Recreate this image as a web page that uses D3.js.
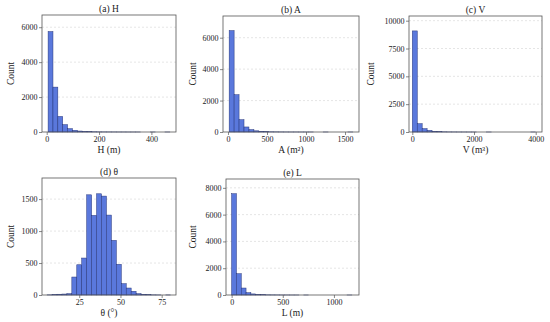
<!DOCTYPE html>
<html><head><meta charset="utf-8">
<script src="https://cdn.jsdelivr.net/npm/d3@7"></script>
<style>
body{margin:0;background:#fff;}
svg text{font-family:"Liberation Serif","Times New Roman",serif;fill:#222;}
</style></head>
<body><svg id="c" width="550" height="322"></svg>
<script>
// ---- data ----
const titles = ["(a) H", "(b) A", "(c) V", "(d) θ", "(e) L"];
const xLabels = ["H (m)", "A (m²)", "V (m³)", "θ (°)", "L (m)"];
const binStarts = [5.3, 15, 0, 5.5, 0];
const binWidths = [18.6, 63.4, 160, 3, 47];
const countsH = [5750, 2570, 890, 420, 190, 95, 55, 30, 20, 12, 8, 5, 4, 3, 2, 2, 1, 1, 1, 0, 0, 1, 0, 0, 1];
const countsA = [6450, 2370, 780, 320, 150, 75, 40, 20, 12, 8, 5, 3, 2, 2, 1, 1, 1, 0, 0, 1, 0, 0, 0, 0, 1];
const countsV = [9080, 745, 300, 140, 60, 30, 15, 8, 5, 3, 2, 1, 1, 0, 0, 1, 0, 0, 0, 0, 0, 0, 0, 0, 1];
const countsT = [2, 5, 12, 15, 20, 281, 473, 578, 1567, 1245, 1583, 1547, 1250, 854, 480, 177, 109, 58, 20, 10, 5, 2, 1, 0, 1];
const countsL = [7560, 1590, 520, 170, 80, 40, 20, 12, 8, 5, 3, 2, 1, 1, 0, 1, 0, 0, 0, 0, 0, 0, 0, 0, 1];
const xTicks = [[0, 200, 400], [0, 500, 1000, 1500], [0, 2000, 4000], [25, 50, 75], [0, 500, 1000]];
const yTicks = [[0, 2000, 4000, 6000], [0, 2000, 4000, 6000], [0, 2500, 5000, 7500, 10000], [0, 500, 1000, 1500], [0, 2000, 4000, 6000, 8000]];
const xDomains = [[-18, 494], [-64, 1679], [-107, 4204], [2.4, 83.7], [-55, 1245]];
const yMax = [6700, 7380, 10420, 1830, 8660];
const allCounts = [countsH, countsA, countsV, countsT, countsL];

// ---- layout ----
const frames = [
  {x0: 42, x1: 176, y0: 15, y1: 132, lx: 11},
  {x0: 223, x1: 359, y0: 16, y1: 132, lx: 193},
  {x0: 409, x1: 542, y0: 16, y1: 132, lx: 371},
  {x0: 42, x1: 176, y0: 178, y1: 295, lx: 11},
  {x0: 226, x1: 359, y0: 179, y1: 295, lx: 193}
];

const svg = d3.select("#c");
const fill = "#5a78dc", edge = "#26357a", frameCol = "#555";

frames.forEach((f, i) => {
  const x = d3.scaleLinear().domain(xDomains[i]).range([f.x0, f.x1]);
  const y = d3.scaleLinear().domain([0, yMax[i]]).range([f.y1, f.y0]);
  const g = svg.append("g");

  // grid
  g.selectAll("line.grid").data(yTicks[i].filter(t => t > 0)).join("line")
    .attr("x1", f.x0).attr("x2", f.x1)
    .attr("y1", d => y(d)).attr("y2", d => y(d))
    .attr("stroke", "#d4d4d4").attr("stroke-width", 0.6).attr("stroke-dasharray", "2,2");

  // bars
  const bins = allCounts[i].map((c, k) => ({
    x0: binStarts[i] + k * binWidths[i],
    x1: binStarts[i] + (k + 1) * binWidths[i],
    c
  })).filter(b => b.c > 0);
  g.selectAll("rect.bar").data(bins).join("rect")
    .attr("x", d => x(d.x0)).attr("width", d => x(d.x1) - x(d.x0))
    .attr("y", d => y(d.c)).attr("height", d => y(0) - y(d.c))
    .attr("fill", fill).attr("stroke", edge).attr("stroke-width", 0.5);

  // axes
  const xa = g.append("g").attr("transform", `translate(0,${f.y1})`)
    .call(d3.axisBottom(x).tickValues(xTicks[i]).tickSize(3).tickPadding(1.5).tickFormat(d3.format("d")));
  const ya = g.append("g").attr("transform", `translate(${f.x0},0)`)
    .call(d3.axisLeft(y).tickValues(yTicks[i]).tickSize(3).tickPadding(1.5).tickFormat(d3.format("d")));
  [xa, ya].forEach(a => {
    a.select(".domain").remove();
    a.selectAll(".tick line").attr("stroke", frameCol).attr("stroke-width", 0.7);
    a.selectAll(".tick text").attr("font-size", 8).attr("fill", "#222")
      .attr("font-family", "Liberation Serif");
  });

  // frame
  g.append("rect").attr("x", f.x0).attr("y", f.y0)
    .attr("width", f.x1 - f.x0).attr("height", f.y1 - f.y0)
    .attr("fill", "none").attr("stroke", frameCol).attr("stroke-width", 0.8);

  // titles / labels
  g.append("text").attr("x", (f.x0 + f.x1) / 2).attr("y", f.y0 - 3)
    .attr("text-anchor", "middle").attr("font-size", 9.5).text(titles[i]);
  g.append("text").attr("x", (f.x0 + f.x1) / 2).attr("y", f.y1 + 21)
    .attr("text-anchor", "middle").attr("font-size", 9.5).text(xLabels[i]);
  g.append("text").attr("transform", `translate(${f.lx + 3},${(f.y0 + f.y1) / 2}) rotate(-90)`)
    .attr("text-anchor", "middle").attr("font-size", 9.5).text("Count");
});
</script></body></html>
